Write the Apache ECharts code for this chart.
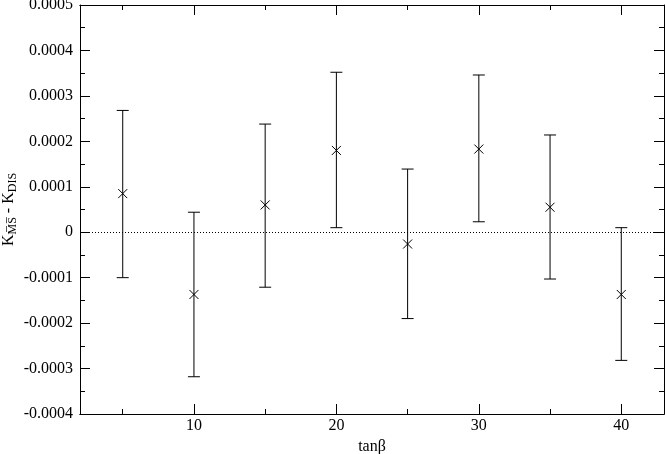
<!DOCTYPE html>
<html>
<head>
<meta charset="utf-8">
<script src="https://cdn.jsdelivr.net/npm/echarts@6/dist/echarts.min.js"></script>
<style>
  html, body { margin: 0; padding: 0; background: #fff; }
  #chart { width: 665px; height: 454px; }
</style>
</head>
<body>
<div id="chart"></div>
<script>
// tanβ values and K(MS-bar) - K(DIS) with error bars
var tanBeta = [5, 10, 15, 20, 25, 30, 35, 40];
var centers = [0.000085, -0.000137, 0.00006, 0.00018, -0.000026, 0.000183, 0.000055, -0.000137];
var lows = [-0.0001, -0.000318, -0.000121, 0.00001, -0.00019, 0.000023, -0.000103, -0.000282];
var highs = [0.000268, 0.000044, 0.000238, 0.000352, 0.000139, 0.000346, 0.000214, 0.00001];
var xMajor = [10, 20, 30, 40];
var xMinor = [5, 15, 25, 35];

var font = 'Liberation Serif';
var chart = echarts.init(document.getElementById('chart'));

var points = [];
for (var i = 0; i < tanBeta.length; i++) {
  points.push([tanBeta[i], centers[i], lows[i], highs[i]]);
}

function renderBar(params, api) {
  var c = api.coord([api.value(0), api.value(1)]);
  var lo = api.coord([api.value(0), api.value(2)]);
  var hi = api.coord([api.value(0), api.value(3)]);
  var cap = 6, s = 4.5;
  var st = { stroke: '#000', lineWidth: 1 };
  return {
    type: 'group',
    children: [
      { type: 'line', shape: { x1: c[0], y1: lo[1], x2: c[0], y2: hi[1] }, style: st },
      { type: 'line', shape: { x1: c[0] - cap, y1: hi[1], x2: c[0] + cap, y2: hi[1] }, style: st },
      { type: 'line', shape: { x1: c[0] - cap, y1: lo[1], x2: c[0] + cap, y2: lo[1] }, style: st },
      { type: 'line', shape: { x1: c[0] - s, y1: c[1] - s, x2: c[0] + s, y2: c[1] + s }, style: st },
      { type: 'line', shape: { x1: c[0] - s, y1: c[1] + s, x2: c[0] + s, y2: c[1] - s }, style: st }
    ]
  };
}

function xAxisDef(pos, ticks, len, withLabels) {
  return {
    type: 'value',
    position: pos,
    min: 2,
    max: 43,
    name: withLabels ? 'tanβ' : '',
    nameLocation: 'middle',
    nameGap: 25,
    nameMoveOverlap: false,
    nameTextStyle: { fontFamily: font, fontSize: 16, color: '#000' },
    splitLine: { show: false },
    axisLine: { show: true, onZero: false, lineStyle: { color: '#000', width: 1 } },
    axisTick: { show: true, inside: true, length: len, customValues: ticks, lineStyle: { color: '#000' } },
    axisLabel: {
      show: withLabels, customValues: ticks, margin: 4,
      fontFamily: font, fontSize: 16, color: '#000'
    }
  };
}

function yAxisDef(pos, withLabels) {
  return {
    type: 'value',
    position: pos,
    min: -0.0004,
    max: 0.0005,
    interval: 0.0001,
    name: withLabels ? '{k|K}{sub|M\u0305S\u0305}{k| - K}{sub|DIS}' : '',
    nameLocation: 'middle',
    nameGap: 61,
    nameMoveOverlap: false,
    nameTextStyle: {
      fontFamily: font, color: '#000',
      rich: {
        k: { fontFamily: font, fontSize: 16, color: '#000', verticalAlign: 'top', lineHeight: 18 },
        sub: { fontFamily: font, fontSize: 12, color: '#000', verticalAlign: 'bottom', lineHeight: 18 }
      }
    },
    splitLine: { show: false },
    axisLine: { show: true, onZero: false, lineStyle: { color: '#000', width: 1 } },
    axisTick: { show: true, inside: true, length: 10, lineStyle: { color: '#000' } },
    minorTick: { show: true, splitNumber: 2, length: 5, lineStyle: { color: '#000' } },
    minorSplitLine: { show: false },
    axisLabel: {
      show: withLabels, margin: 7,
      fontFamily: font, fontSize: 16, color: '#000',
      formatter: function (v) {
        if (Math.abs(v) < 1e-12) return '0';
        return v.toFixed(4);
      }
    }
  };
}

var option = {
  animation: false,
  backgroundColor: '#fff',
  grid: { left: 80, right: 1, top: 5, bottom: 40, containLabel: false, outerBoundsMode: 'none' },
  xAxis: [
    xAxisDef('bottom', xMajor, 10, true),
    xAxisDef('bottom', xMinor, 5, false),
    xAxisDef('top', xMajor, 10, false),
    xAxisDef('top', xMinor, 5, false)
  ],
  yAxis: [
    yAxisDef('left', true),
    yAxisDef('right', false)
  ],
  series: [{
    type: 'custom',
    xAxisIndex: 0,
    yAxisIndex: 0,
    renderItem: renderBar,
    data: points,
    markLine: {
      silent: true,
      symbol: 'none',
      label: { show: false },
      lineStyle: { color: '#000', type: [1, 2], width: 1 },
      data: [{ yAxis: 0 }]
    }
  }]
};

chart.setOption(option);
</script>
</body>
</html>
